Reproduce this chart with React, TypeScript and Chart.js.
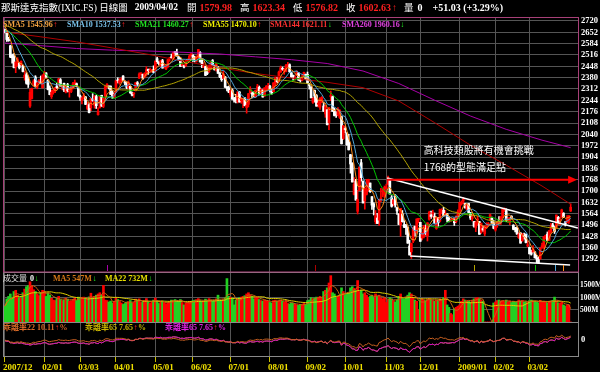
import React, { useEffect, useRef } from 'react';
import { Chart, registerables } from 'chart.js';

Chart.register(...registerables);

// ---------- data ----------
const monthTickIdx = [0, 22, 42, 62, 84, 105, 126, 148, 169, 190, 213, 232, 254, 274, 293];
const monthTickLabels = ['2007/12', '02/01', '03/03', '04/01', '05/01', '06/02', '07/01', '08/01', '09/02', '10/01', '11/03', '12/01', '2009/01', '02/02', '03/02'];
const priceTicks = [1292, 1360, 1428, 1496, 1564, 1632, 1700, 1768, 1836, 1904, 1972, 2040, 2108, 2176, 2244, 2312, 2380, 2448, 2516, 2584, 2652, 2720];
const volumeTicks = [500, 1000, 1500];
const oscTicks = [0];

// closes before the first shown day (Oct-Dec 2007), used for the moving averages
const priorCloses = [
  2740, 2747, 2729, 2733, 2780, 2788, 2803, 2811, 2772, 2805, 2780, 2763, 2792, 2800, 2726, 2753, 2799, 2775, 2750, 2804, 2817, 2816, 2859,
  2794, 2810, 2795, 2825, 2748, 2696, 2627, 2584, 2673, 2645, 2618, 2637, 2593, 2596, 2562, 2596, 2541, 2580, 2663, 2668, 2661,
  2637, 2620, 2666, 2709, 2706, 2718, 2652, 2671, 2668, 2635, 2575, 2596, 2602, 2640, 2692, 2713, 2724, 2676, 2674,
];

const opens = [
  2665,
  2653, 2611, 2571, 2514, 2506, 2443, 2458, 2468, 2459, 2450, 2380, 2398, 2371, 2210, 2255, 2342, 2384, 2322, 2355, 2352, 2320,
  2394, 2408, 2365, 2318, 2266, 2290, 2303, 2330, 2336, 2368, 2319, 2346, 2293, 2338, 2301, 2297, 2318, 2335, 2344, 2317,
  2270, 2245, 2265, 2265, 2195, 2217, 2199, 2256, 2215, 2267, 2158, 2200, 2274, 2208, 2269, 2324, 2327, 2329, 2290, 2264,
  2296, 2362, 2350, 2365, 2390, 2354, 2350, 2321, 2328, 2287, 2282, 2302, 2350, 2377, 2400, 2400, 2385, 2408, 2430, 2420, 2420, 2428,
  2418, 2494, 2470, 2452, 2482, 2445, 2432, 2447, 2493, 2505, 2495, 2537, 2530, 2505, 2493, 2453, 2452, 2450, 2483, 2489, 2512,
  2515, 2501, 2478, 2502, 2531, 2487, 2443, 2447, 2406, 2415, 2441, 2482, 2449, 2427, 2443, 2408, 2381, 2375, 2385, 2325, 2320,
  2280, 2306, 2254, 2253, 2237, 2294, 2240, 2235, 2258, 2200, 2220, 2290, 2283, 2294, 2271, 2310, 2323, 2286, 2306, 2270, 2322, 2315,
  2329, 2306, 2296, 2343, 2366, 2357, 2413, 2436, 2418, 2417, 2451, 2458, 2408, 2394, 2372, 2393, 2408, 2366, 2364, 2391, 2400,
  2400, 2341, 2325, 2232, 2303, 2273, 2220, 2203, 2236, 2210, 2162, 2188, 2110, 2266, 2266, 2182, 2161, 2155, 2141, 2146, 2015,
  2071, 2047, 1995, 1918, 1865, 1680, 1760, 1578, 1703, 1870, 1760, 1640, 1680, 1722, 1748, 1666, 1623, 1516, 1538, 1525, 1649, 1697, 1676,
  1713, 1742, 1770, 1663, 1623, 1671, 1600, 1563, 1498, 1563, 1498, 1492, 1481, 1370, 1335, 1398, 1488, 1452, 1530,
  1512, 1418, 1426, 1474, 1431, 1530, 1557, 1564, 1548, 1475, 1540, 1520, 1575, 1584, 1557, 1564, 1537, 1520, 1528, 1532, 1516, 1550,
  1578, 1622, 1639, 1625, 1590, 1625, 1570, 1534, 1517, 1479, 1526, 1516, 1451, 1475, 1443, 1484, 1498, 1526, 1537, 1508,
  1466, 1497, 1521, 1509, 1548, 1588, 1582, 1527, 1511, 1547, 1495, 1478, 1477, 1420, 1448, 1401, 1431, 1439, 1370,
  1362, 1332, 1334, 1334, 1297, 1289, 1293, 1362, 1367, 1428, 1441, 1404, 1454, 1497, 1484, 1481, 1543, 1525, 1545, 1567, 1515, 1512,
  1517, 1579.98,
];

const highs = [
  2672,
  2661, 2622, 2575, 2521, 2524, 2474, 2500, 2470, 2481, 2455, 2420, 2410, 2390, 2310, 2318, 2368, 2392, 2350, 2368, 2390, 2398,
  2418, 2410, 2369, 2331, 2305, 2308, 2322, 2348, 2376, 2375, 2330, 2348, 2334, 2346, 2306, 2330, 2352, 2366, 2348, 2318,
  2275, 2263, 2285, 2267, 2233, 2224, 2256, 2284, 2273, 2275, 2199, 2268, 2275, 2260, 2330, 2344, 2331, 2331, 2301, 2291,
  2362, 2380, 2375, 2380, 2392, 2361, 2355, 2361, 2329, 2294, 2290, 2351, 2357, 2409, 2411, 2402, 2410, 2446, 2432, 2437, 2430, 2451,
  2480, 2504, 2477, 2485, 2490, 2462, 2451, 2490, 2502, 2522, 2534, 2538, 2551, 2507, 2500, 2473, 2455, 2483, 2493, 2518, 2525,
  2518, 2508, 2512, 2550, 2537, 2490, 2470, 2450, 2440, 2455, 2479, 2489, 2455, 2466, 2448, 2411, 2394, 2419, 2386, 2327, 2330,
  2305, 2313, 2262, 2280, 2296, 2297, 2261, 2249, 2260, 2232, 2285, 2326, 2295, 2294, 2306, 2340, 2330, 2314, 2307, 2320, 2333, 2346,
  2334, 2310, 2350, 2384, 2380, 2420, 2450, 2444, 2436, 2460, 2472, 2463, 2412, 2395, 2390, 2421, 2411, 2374, 2396, 2414, 2402,
  2414, 2345, 2326, 2262, 2306, 2279, 2241, 2259, 2266, 2234, 2214, 2188, 2202, 2300, 2270, 2198, 2175, 2200, 2189, 2150, 2093,
  2086, 2050, 2040, 1920, 1870, 1780, 1770, 1704, 1844, 1890, 1760, 1719, 1770, 1771, 1748, 1666, 1630, 1583, 1566, 1649, 1716, 1712, 1730,
  1741, 1790, 1770, 1673, 1649, 1680, 1603, 1563, 1596, 1583, 1522, 1500, 1485, 1405, 1388, 1484, 1490, 1533, 1536,
  1512, 1450, 1494, 1497, 1510, 1579, 1580, 1585, 1568, 1544, 1541, 1592, 1594, 1602, 1583, 1565, 1547, 1530, 1535, 1533, 1550, 1587,
  1633, 1641, 1662, 1625, 1618, 1625, 1571, 1565, 1517, 1519, 1549, 1518, 1507, 1488, 1491, 1510, 1511, 1562, 1544, 1525,
  1496, 1518, 1547, 1547, 1594, 1599, 1593, 1540, 1542, 1552, 1498, 1482, 1485, 1450, 1450, 1446, 1447, 1443, 1400,
  1363, 1345, 1373, 1337, 1315, 1305, 1358, 1387, 1426, 1436, 1454, 1462, 1506, 1506, 1487, 1556, 1548, 1542, 1591, 1570, 1516, 1552,
  1553, 1623.34,
];

const lows = [
  2648,
  2597, 2598, 2500, 2467, 2438, 2410, 2451, 2432, 2450, 2414, 2365, 2341, 2321, 2202, 2252, 2328, 2323, 2313, 2344, 2344, 2317,
  2382, 2381, 2306, 2277, 2255, 2281, 2290, 2314, 2334, 2328, 2307, 2296, 2288, 2294, 2263, 2290, 2313, 2333, 2325, 2268,
  2244, 2222, 2251, 2218, 2187, 2169, 2182, 2238, 2197, 2195, 2155, 2197, 2208, 2200, 2268, 2318, 2312, 2279, 2255, 2261,
  2290, 2348, 2340, 2351, 2360, 2338, 2313, 2316, 2285, 2270, 2262, 2300, 2330, 2375, 2395, 2370, 2378, 2390, 2400, 2418, 2412, 2409,
  2415, 2465, 2457, 2444, 2437, 2437, 2428, 2442, 2478, 2494, 2490, 2512, 2508, 2482, 2446, 2450, 2438, 2447, 2474, 2485, 2507,
  2478, 2474, 2473, 2499, 2474, 2440, 2440, 2392, 2398, 2411, 2438, 2456, 2425, 2420, 2405, 2380, 2358, 2372, 2321, 2301, 2290,
  2265, 2250, 2233, 2229, 2228, 2233, 2226, 2200, 2210, 2167, 2204, 2285, 2260, 2266, 2260, 2305, 2279, 2282, 2263, 2268, 2303, 2314,
  2295, 2280, 2293, 2330, 2350, 2354, 2412, 2424, 2400, 2415, 2446, 2410, 2381, 2365, 2366, 2392, 2363, 2353, 2360, 2390, 2367,
  2345, 2311, 2258, 2225, 2233, 2209, 2204, 2190, 2230, 2177, 2142, 2096, 2068, 2242, 2177, 2150, 2141, 2150, 2135, 1982, 2008,
  2049, 1975, 1946, 1807, 1754, 1676, 1645, 1562, 1703, 1760, 1628, 1591, 1676, 1700, 1692, 1590, 1556, 1503, 1505, 1493, 1636, 1665, 1661,
  1716, 1735, 1682, 1603, 1611, 1603, 1560, 1499, 1428, 1513, 1480, 1440, 1386, 1316, 1295, 1390, 1429, 1446, 1509,
  1398, 1406, 1418, 1436, 1400, 1525, 1535, 1543, 1506, 1470, 1489, 1515, 1564, 1548, 1550, 1514, 1515, 1517, 1521, 1493, 1509, 1547,
  1571, 1615, 1624, 1597, 1585, 1570, 1529, 1520, 1483, 1456, 1496, 1440, 1446, 1458, 1432, 1476, 1489, 1526, 1504, 1473,
  1459, 1482, 1512, 1499, 1540, 1577, 1516, 1512, 1498, 1532, 1467, 1455, 1440, 1415, 1387, 1398, 1411, 1389, 1365,
  1322, 1315, 1331, 1298, 1269, 1265, 1290, 1355, 1355, 1412, 1402, 1403, 1447, 1476, 1445, 1475, 1510, 1496, 1541, 1540, 1490, 1509,
  1506, 1576.82,
];

const closes = [
  2652,
  2609, 2602, 2504, 2499, 2440, 2474, 2488, 2440, 2478, 2417, 2394, 2346, 2340, 2292, 2316, 2360, 2326, 2349, 2358, 2349, 2389,
  2413, 2382, 2309, 2278, 2293, 2304, 2320, 2320, 2373, 2332, 2321, 2306, 2328, 2300, 2303, 2327, 2344, 2353, 2331, 2271,
  2258, 2260, 2272, 2220, 2212, 2170, 2255, 2243, 2263, 2212, 2177, 2268, 2209, 2258, 2326, 2341, 2324, 2280, 2261, 2279,
  2362, 2361, 2363, 2370, 2364, 2348, 2322, 2351, 2290, 2275, 2286, 2350, 2341, 2402, 2408, 2376, 2405, 2428, 2422, 2424, 2426, 2412,
  2480, 2476, 2464, 2483, 2438, 2451, 2445, 2488, 2496, 2496, 2533, 2528, 2516, 2492, 2448, 2464, 2444, 2481, 2486, 2509, 2523,
  2491, 2480, 2503, 2549, 2474, 2460, 2448, 2394, 2405, 2454, 2474, 2457, 2429, 2462, 2406, 2385, 2368, 2401, 2322, 2316, 2293,
  2304, 2251, 2245, 2243, 2294, 2234, 2257, 2239, 2212, 2215, 2284, 2312, 2282, 2279, 2304, 2327, 2280, 2310, 2264, 2319, 2329, 2326,
  2310, 2285, 2349, 2378, 2356, 2414, 2440, 2430, 2428, 2453, 2452, 2416, 2384, 2389, 2380, 2414, 2366, 2362, 2382, 2412, 2368,
  2349, 2333, 2259, 2255, 2269, 2209, 2228, 2258, 2261, 2179, 2207, 2098, 2199, 2273, 2178, 2153, 2155, 2186, 2183, 1983, 2092,
  2069, 1976, 1947, 1862, 1754, 1740, 1645, 1649, 1844, 1780, 1628, 1717, 1711, 1770, 1696, 1615, 1604, 1552, 1505, 1649, 1657, 1698, 1721,
  1726, 1780, 1682, 1608, 1647, 1616, 1580, 1499, 1596, 1516, 1483, 1483, 1387, 1316, 1385, 1472, 1464, 1532, 1536,
  1398, 1449, 1492, 1445, 1509, 1572, 1547, 1565, 1507, 1541, 1509, 1589, 1580, 1552, 1565, 1532, 1521, 1525, 1530, 1510, 1550, 1577,
  1632, 1628, 1652, 1599, 1617, 1571, 1538, 1546, 1489, 1511, 1529, 1440, 1507, 1466, 1477, 1490, 1505, 1558, 1507, 1476,
  1494, 1516, 1516, 1546, 1591, 1591, 1524, 1530, 1541, 1534, 1470, 1467, 1442, 1441, 1387, 1441, 1426, 1391, 1378,
  1323, 1321, 1353, 1299, 1293, 1269, 1358, 1371, 1426, 1431, 1404, 1462, 1491, 1483, 1457, 1556, 1516, 1529, 1587, 1545, 1502, 1529,
  1552, 1602.63,
];

// volume in millions of shares
const volumes = [
  650,
  950, 1050, 1150, 1000, 1250, 1300, 1100, 1000, 980, 1200, 1350, 1450, 1500, 1650, 1480, 1320, 1250, 1150, 1080, 1200, 1300,
  1250, 1050, 1200, 1100, 980, 900, 880, 960, 1050, 920, 880, 900, 980, 940, 860, 870, 920, 980, 880, 1020,
  940, 1000, 1020, 980, 950, 1030, 1180, 980, 1050, 1100, 1150, 1200, 1100, 1500, 900, 880, 820, 860, 780, 850,
  980, 920, 840, 780, 720, 760, 820, 840, 880, 780, 800, 940, 890, 950, 800, 820, 880, 960, 840, 760, 820, 900,
  980, 880, 760, 820, 860, 800, 740, 780, 840, 900, 880, 920, 860, 850, 920, 800, 700, 780, 800, 840, 820,
  880, 900, 920, 960, 880, 820, 860, 940, 900, 960, 880, 860, 900, 950, 1100, 860, 900, 920, 1000, 1780, 1050,
  1020, 980, 700, 900, 950, 1000, 1020, 1050, 1080, 1150, 1200, 1100, 1050, 950, 1000, 1020, 920, 880, 860, 900, 880, 850,
  800, 780, 880, 900, 860, 880, 900, 850, 820, 880, 760, 740, 780, 760, 720, 700, 680, 720, 700, 760, 720,
  880, 900, 1000, 960, 980, 1020, 1000, 1050, 980, 1250, 1300, 1400, 1600, 1900, 1200, 1150, 1000, 1050, 1080, 1400, 1250,
  1100, 1150, 1200, 1400, 1450, 1380, 1300, 1700, 1250, 1300, 1150, 1200, 1100, 1000, 1050, 1100, 1000, 1150, 1050, 1100, 980, 950, 1000,
  800, 900, 1000, 950, 880, 820, 900, 1050, 1150, 1000, 950, 1000, 1100, 1200, 1150, 1000, 900, 850, 500,
  900, 950, 900, 880, 920, 960, 900, 880, 850, 900, 850, 950, 900, 1000, 1300, 700, 600, 350, 300, 550, 600, 650,
  700, 850, 950, 900, 880, 850, 820, 900, 950, 980, 1000, 950, 900, 850, 0, 0, 0, 0, 0, 780,
  820, 880, 900, 860, 880, 840, 900, 820, 860, 800, 850, 820, 840, 900, 860, 880, 820, 840, 800,
  880, 900, 860, 850, 810, 790, 890, 830, 850, 810, 790, 850, 870, 890, 1020, 850, 790, 770, 810, 700, 650, 680,
  705, 0,
];

// long averages (day index -> value)
const sma144Idx = [0, 20, 40, 60, 80, 100, 120, 140, 160, 180, 200, 220, 240, 260, 280, 300, 316];
const sma144Vals = [2654, 2625, 2595, 2558, 2520, 2478, 2440, 2405, 2378, 2352, 2320, 2240, 2110, 1975, 1855, 1730, 1621];
const sma260Idx = [0, 20, 40, 60, 80, 100, 120, 140, 160, 180, 200, 220, 240, 260, 280, 300, 316];
const sma260Vals = [2588, 2572, 2555, 2545, 2540, 2532, 2522, 2505, 2488, 2465, 2420, 2345, 2245, 2150, 2070, 2005, 1960];

// hand-drawn annotations (day index, price)
const topLineIdx = [213.5, 320];
const topLinePrice = [1778, 1478];
const bottomLineIdx = [226.3, 315.7];
const bottomLinePrice = [1310, 1256];
const targetPrice = 1768;
const targetIdx = [214, 319.6];
const noteIdx = 234;
const notePrices = [1946, 1844];
const noteLines = ['高科技類股將有機會挑戰', '1768的型態滿足點'];

const smaPeriods = [5, 10, 21, 55, 144, 260];
const smaLabels = ['SMA5 1545.96', 'SMA10 1537.53', 'SMA21 1460.27', 'SMA55 1470.10', 'SMA144 1621.11', 'SMA260 1960.16'];
const smaArrows = ['↑', '↑', '↑', '↑', '↓', '↓'];

// ---------- styles ----------
const GRID = '#555555';
const UP = '#ff0000';
const DOWN = '#ffffff';
const VUP = '#ff0000';
const VDOWN = '#22d022';
const smaLineColors = ['#ff8c1a', '#4ea6d8', '#00c800', '#b4a400', '#b00000', '#a800a8'];
const smaLabelColors = ['#f0a040', '#78c0e8', '#20e020', '#f0f000', '#ff3030', '#e040e0'];
const serifB = (s: number) => `bold ${s}px "Liberation Serif", "Noto Sans CJK TC", serif`;
const serifR = (s: number) => `${s}px "Liberation Serif", "Noto Sans CJK TC", serif`;

function movingAvg(src: number[], n: number, offset: number, count: number) {
  const out: number[] = [];
  for (let i = 0; i < count; i++) {
    const k = i + offset;
    const s = Math.max(0, k - n + 1);
    let sum = 0;
    for (let j = s; j <= k; j++) sum += src[j];
    out.push(sum / (k - s + 1));
  }
  return out;
}

type Part = [string, string, string, number?];
function seq(ctx: CanvasRenderingContext2D, x: number, y: number, parts: Part[]) {
  for (const [t, color, font, gap] of parts) {
    ctx.font = font;
    ctx.fillStyle = color;
    ctx.fillText(t, x, y);
    x += ctx.measureText(t).width + (gap || 0);
  }
}

export default function App() {
  const ref = useRef<HTMLCanvasElement>(null);

  useEffect(() => {
    document.body.style.margin = '0';
    document.body.style.background = '#000';
    const n = closes.length;
    const P = priorCloses.length;
    const allCloses = [...priorCloses, ...closes];
    const sma = (p: number) => movingAvg(allCloses, p, P, n);
    const sma5 = sma(5), sma10 = sma(10), sma21 = sma(21), sma55 = sma(55);
    const sma22 = sma(22), sma65 = sma(65);
    const bias22 = closes.map((c, i) => ((c - sma22[i]) / sma22[i]) * 100);
    const bias65 = closes.map((c, i) => ((c - sma65[i]) / sma65[i]) * 100);
    const vma5 = movingAvg(volumes, 5, 0, n);
    const vma22 = movingAvg(volumes, 22, 0, n);
    const isUp = closes.map((c, i) => c >= opens[i]);
    const pts = (arr: number[]) => arr.map((v, i) => ({ x: i, y: v }));
    const line = (data: any[], color: string, axis: string, order: number, width = 1) => ({
      type: 'line' as const, data, borderColor: color, borderWidth: width, pointRadius: 0,
      tension: 0, yAxisID: axis, xAxisID: 'x', order,
    });

    const overlay = {
      id: 'overlay',
      beforeDraw(chart: any) {
        const ctx = chart.ctx;
        ctx.save();
        ctx.fillStyle = '#000';
        ctx.fillRect(0, 0, chart.width, chart.height);
        ctx.restore();
      },
      afterDraw(chart: any) {
        const ctx: CanvasRenderingContext2D = chart.ctx;
        const { left, right } = chart.chartArea;
        const sx = chart.scales.x, sy = chart.scales.y, sv = chart.scales.yv, so = chart.scales.yo;
        ctx.save();
        // window markers at the bottom of the price panel
        ctx.lineWidth = 1;
        smaPeriods.forEach((p, k) => {
          const px = Math.round(sx.getPixelForValue(n - p)) + 0.5;
          ctx.strokeStyle = smaLineColors[k];
          ctx.beginPath();
          ctx.moveTo(px, sy.bottom - 7);
          ctx.lineTo(px, sy.bottom - 1);
          ctx.stroke();
        });
        // arrow head of the target line
        const ax = sx.getPixelForValue(targetIdx[1]);
        const ay = sy.getPixelForValue(targetPrice);
        ctx.fillStyle = '#ff0000';
        ctx.beginPath();
        ctx.moveTo(ax, ay);
        ctx.lineTo(ax - 9, ay - 4);
        ctx.lineTo(ax - 9, ay + 4);
        ctx.closePath();
        ctx.fill();
        // panel frames
        ctx.strokeStyle = '#8a8a8a';
        ctx.strokeRect(left + 0.5, sv.top + 0.5, right - left, sv.bottom - sv.top);
        ctx.strokeRect(left + 0.5, so.top + 0.5, right - left, so.bottom - so.top - 1);
        ctx.strokeStyle = '#a84078';
        ctx.strokeRect(left + 0.5, sy.top - 0.5, right - left, sy.bottom - sy.top + 0.5);

        ctx.textBaseline = 'middle';
        ctx.textAlign = 'left';
        // title row
        seq(ctx, 1, 8, [
          ['那斯達克指數(IXIC.FS) 日線圖', '#ffffff', serifR(9.5), 7],
          ['2009/04/02', '#ffffff', serifB(9.5), 9],
          ['開', '#ffffff', serifR(9.5), 3],
          ['1579.98', '#ff2020', serifB(10), 8],
          ['高', '#ffffff', serifR(9.5), 3],
          ['1623.34', '#ff2020', serifB(10), 8],
          ['低', '#ffffff', serifR(9.5), 3],
          ['1576.82', '#ff2020', serifB(10), 8],
          ['收', '#ffffff', serifR(9.5), 3],
          ['1602.63', '#ff2020', serifB(10), 1],
          ['↑', '#ff2020', serifB(10), 7],
          ['量', '#ffffff', serifR(9.5), 4],
          ['0', '#ffffff', serifB(10), 10],
          ['+51.03 (+3.29%)', '#ffffff', serifB(10), 0],
        ]);
        // SMA legend
        const smaX = [3, 67, 135, 203, 270, 342];
        smaLabels.forEach((t, k) => {
          seq(ctx, smaX[k], 24.5, [
            [t, smaLabelColors[k], serifB(8), 0.5],
            [smaArrows[k], smaArrows[k] === '↑' ? '#ff2020' : '#20ff20', serifB(8), 0],
          ]);
        });
        // volume legend
        const vy = sv.top + 6.5;
        seq(ctx, 3, vy, [['成交量', '#e0e0e0', serifR(8), 3], ['0', '#ffffff', serifB(8), 0.5], ['↓', '#20ff20', serifB(8), 0]]);
        seq(ctx, 53, vy, [['MA5 547M', '#d87818', serifB(8), 0.5], ['↓', '#20ff20', serifB(8), 0]]);
        seq(ctx, 105, vy, [['MA22 732M', '#e8e000', serifB(8), 0.5], ['↓', '#20ff20', serifB(8), 0]]);
        // oscillator legend
        const oy = so.top + 6;
        seq(ctx, 3, oy, [['乖離率22 10.11', '#d86a28', serifB(8), 0.5], ['↑', '#ff2020', serifB(8), 0.5], ['%', '#d86a28', serifB(8), 0]]);
        seq(ctx, 85, oy, [['乖離率65 7.65', '#c8b400', serifB(8), 0.5], ['↑', '#ff2020', serifB(8), 0.5], ['%', '#c8b400', serifB(8), 0]]);
        seq(ctx, 165, oy, [['乖離率65 7.65', '#e020e0', serifB(8), 0.5], ['↑', '#ff2020', serifB(8), 0.5], ['%', '#e020e0', serifB(8), 0]]);
        // annotation text
        ctx.font = '10px "Noto Sans CJK TC", sans-serif';
        ctx.fillStyle = '#ffffff';
        noteLines.forEach((t, k) => {
          ctx.fillText(t, sx.getPixelForValue(noteIdx), sy.getPixelForValue(notePrices[k]));
        });
        ctx.restore();
      },
    };

    const datasets: any[] = [
      {
        type: 'bar', xAxisID: 'x', yAxisID: 'y', order: 20, grouped: false, barThickness: 1,
        data: closes.map((c, i) => ({ x: i, y: [lows[i], highs[i]] })),
        backgroundColor: isUp.map(u => (u ? UP : DOWN)), borderWidth: 0,
      },
      {
        type: 'bar', xAxisID: 'x', yAxisID: 'y', order: 19, grouped: false, barThickness: 2, minBarLength: 1,
        data: closes.map((c, i) => ({ x: i, y: [opens[i], c] })),
        backgroundColor: isUp.map(u => (u ? UP : DOWN)), borderWidth: 0,
      },
      {
        type: 'bar', xAxisID: 'x', yAxisID: 'yv', order: 20, grouped: false, barThickness: 2,
        data: volumes.map((v, i) => ({ x: i, y: v })),
        backgroundColor: isUp.map(u => (u ? VUP : VDOWN)), borderWidth: 0,
      },
      line(pts(vma22), '#e0d000', 'yv', 8),
      line(pts(vma5), '#c86410', 'yv', 7),
      line(sma260Idx.map((x, k) => ({ x, y: sma260Vals[k] })), smaLineColors[5], 'y', 9),
      line(sma144Idx.map((x, k) => ({ x, y: sma144Vals[k] })), smaLineColors[4], 'y', 8),
      line(pts(sma55), smaLineColors[3], 'y', 7),
      line(pts(sma21), smaLineColors[2], 'y', 6),
      line(pts(sma10), smaLineColors[1], 'y', 5),
      line(pts(sma5), smaLineColors[0], 'y', 4),
      line(topLineIdx.map((x, k) => ({ x, y: topLinePrice[k] })), '#ffffff', 'y', 2, 1.5),
      line(bottomLineIdx.map((x, k) => ({ x, y: bottomLinePrice[k] })), '#ffffff', 'y', 2, 1.5),
      line([{ x: targetIdx[0], y: targetPrice }, { x: targetIdx[1] - 4, y: targetPrice }], '#ff0000', 'y', 1, 2),
      line(pts(bias65), '#c8b400', 'yo', 6),
      line(pts(bias65), '#d000d0', 'yo', 5),
      line(pts(bias22), '#c86020', 'yo', 4),
    ];

    const tickFont = (s: number) => ({ family: '"Liberation Serif", serif', size: s, weight: 'bold' as const });

    const chart = new Chart(ref.current as HTMLCanvasElement, {
      type: 'bar',
      data: { datasets },
      options: {
        animation: false,
        responsive: false,
        maintainAspectRatio: false,
        devicePixelRatio: 1,
        events: [],
        layout: { padding: { left: 3, top: 18, right: 0, bottom: 0 } },
        plugins: { legend: { display: false }, tooltip: { enabled: false } },
        scales: {
          x: {
            type: 'linear', position: 'bottom', min: -1.1, max: 320.1, offset: false,
            afterBuildTicks: (s: any) => { s.ticks = monthTickIdx.map(v => ({ value: v })); },
            afterFit: (s: any) => { s.height = 15; },
            ticks: {
              autoSkip: false, maxRotation: 0, minRotation: 0, align: 'start', labelOffset: -2, padding: 0,
              color: '#f0e000', font: tickFont(9),
              callback: (_v: any, i: number) => monthTickLabels[i],
            },
            grid: { color: GRID, drawTicks: true, tickLength: 5, tickColor: '#c8c000', offset: false },
            border: { display: false },
          },
          y: {
            type: 'linear', position: 'right', stack: 'panels', stackWeight: 254, min: 1214, max: 2738,
            afterBuildTicks: (s: any) => { s.ticks = priceTicks.map(v => ({ value: v })); },
            afterFit: (s: any) => { s.width = 22; },
            ticks: { autoSkip: false, color: '#ffffff', padding: 3, font: tickFont(8.5), callback: (v: any) => String(v) },
            grid: { color: GRID, drawTicks: false },
            border: { display: false },
          },
          yv: {
            type: 'linear', position: 'right', stack: 'panels', stackWeight: 50, min: 0, max: 2050,
            afterBuildTicks: (s: any) => { s.ticks = volumeTicks.map(v => ({ value: v })); },
            afterFit: (s: any) => { s.width = 22; },
            ticks: { autoSkip: false, color: '#ffffff', padding: 2, font: tickFont(7.5), callback: (v: any) => `${v}M` },
            grid: { color: GRID, drawTicks: false },
            border: { display: false },
          },
          yo: {
            type: 'linear', position: 'right', stack: 'panels', stackWeight: 35, min: -43.6, max: 46,
            afterBuildTicks: (s: any) => { s.ticks = oscTicks.map(v => ({ value: v })); },
            afterFit: (s: any) => { s.width = 22; },
            ticks: { autoSkip: false, color: '#ffffff', padding: 3, font: tickFont(8.5), callback: (v: any) => String(v) },
            grid: { display: false, drawTicks: false },
            border: { display: false },
          },
        },
      } as any,
      plugins: [overlay],
    });
    return () => chart.destroy();
  }, []);

  return (
    <div style={{ position: 'fixed', left: 0, top: 0, width: 600, height: 372, background: '#000' }}>
      <canvas ref={ref} width={600} height={372} style={{ display: 'block', width: 600, height: 372 }} />
    </div>
  );
}
